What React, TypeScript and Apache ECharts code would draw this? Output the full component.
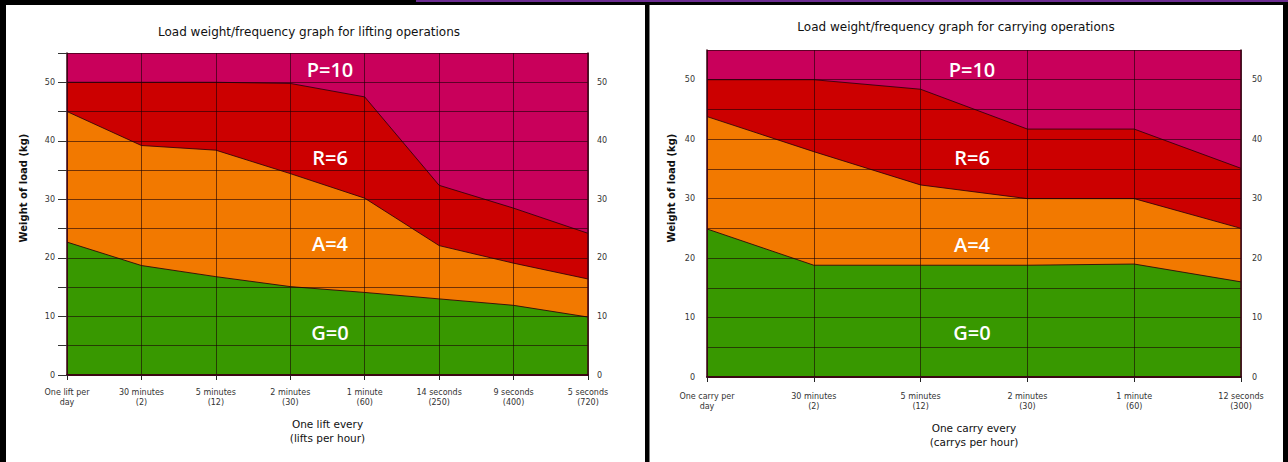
import React, { useEffect, useRef } from "react";
import * as echarts from "echarts";

const liftCategories = [
  "One lift per\nday",
  "30 minutes\n(2)",
  "5 minutes\n(12)",
  "2 minutes\n(30)",
  "1 minute\n(60)",
  "14 seconds\n(250)",
  "9 seconds\n(400)",
  "5 seconds\n(720)",
];
const liftGreenTop = [22.7, 18.7, 16.8, 15.1, 14.1, 13.0, 11.9, 9.9];
const liftOrangeTop = [45.0, 39.2, 38.4, 34.4, 30.2, 22.1, 19.1, 16.4];
const liftRedTop = [50, 50, 50, 49.8, 47.5, 32.4, 28.5, 24.2];

const carryCategories = [
  "One carry per\nday",
  "30 minutes\n(2)",
  "5 minutes\n(12)",
  "2 minutes\n(30)",
  "1 minute\n(60)",
  "12 seconds\n(300)",
];
const carryGreenTop = [24.9, 18.8, 18.8, 18.8, 19.0, 16.0];
const carryOrangeTop = [43.8, 37.9, 32.3, 30.0, 30.0, 25.0];
const carryRedTop = [50, 50, 48.4, 41.7, 41.7, 35.1];

const yLabelTicks = [0, 10, 20, 30, 40, 50];
const zoneLabels = ["P=10", "R=6", "A=4", "G=0"];
const titles = [
  "Load weight/frequency graph for lifting operations",
  "Load weight/frequency graph for carrying operations",
];
const xNames = ["One lift every\n(lifts per hour)", "One carry every\n(carrys per hour)"];
const yName = "Weight of load (kg)";

const FONT = '"DejaVu Sans", Verdana, sans-serif';
const ZONE_FONT = '"Open Sans", "DejaVu Sans", sans-serif';
const C_P = "#C9005B";
const C_R = "#CC0000";
const C_A = "#F27900";
const C_G = "#389800";
const GRIDLINE = "rgba(25,0,5,0.6)";
const BORDER = "#3a0012";

export default function App() {
  const ref = useRef<HTMLDivElement>(null);

  useEffect(() => {
    document.body.style.margin = "0";
    if (!ref.current) return;
    const chart = echarts.init(ref.current, undefined, { renderer: "svg" });

    const grids = [
      { left: 67, top: 53, width: 521, height: 322 },
      { left: 707, top: 50, width: 534, height: 327 },
    ];
    const panels = [
      { cats: liftCategories, g: liftGreenTop, a: liftOrangeTop, r: liftRedTop, yTicks: true, rMargin: 9, xMargin: 13, nameGap: 42 },
      { cats: carryCategories, g: carryGreenTop, a: carryOrangeTop, r: carryRedTop, yTicks: false, rMargin: 11, xMargin: 15, nameGap: 44 },
    ];

    const xAxis: any[] = [];
    const yAxis: any[] = [];
    const series: any[] = [];
    const fmt = (v: number) => (yLabelTicks.includes(v) ? String(v) : "");

    panels.forEach((p, i) => {
      xAxis.push({
        type: "category",
        gridIndex: i,
        data: p.cats,
        boundaryGap: false,
        position: "bottom",
        z: 5,
        axisLine: { show: true, lineStyle: { color: BORDER, width: 1.5 } },
        axisTick: { show: true, length: 5, interval: 0, lineStyle: { color: "#222" } },
        axisLabel: { interval: 0, fontSize: 8, color: "#333", margin: p.xMargin, lineHeight: 9.5, fontFamily: FONT },
        splitLine: { show: true, interval: 0, lineStyle: { color: GRIDLINE, width: 1 } },
        name: xNames[i],
        nameLocation: "middle",
        nameGap: p.nameGap,
        nameTextStyle: { fontSize: 10.5, color: "#111", lineHeight: 14, fontFamily: FONT },
      });
      xAxis.push({
        type: "category",
        gridIndex: i,
        data: p.cats,
        boundaryGap: false,
        position: "top",
        z: 5,
        axisLine: { show: true, lineStyle: { color: BORDER, width: 1.5 } },
        axisTick: { show: false },
        axisLabel: { show: false },
        splitLine: { show: false },
      });
      yAxis.push({
        type: "value",
        gridIndex: i,
        min: 0,
        max: 55,
        interval: 5,
        position: "left",
        z: 5,
        axisLine: { show: true, lineStyle: { color: BORDER, width: 1.5 } },
        axisTick: { show: p.yTicks, length: 9, lineStyle: { color: "#333" } },
        axisLabel: { fontSize: 8, color: "#333", margin: 12, formatter: fmt, fontFamily: FONT },
        splitLine: { show: true, lineStyle: { color: GRIDLINE, width: 1 } },
      });
      yAxis.push({
        type: "value",
        gridIndex: i,
        min: 0,
        max: 55,
        interval: 5,
        position: "right",
        z: 5,
        axisLine: { show: true, lineStyle: { color: BORDER, width: 1.5 } },
        axisTick: { show: false },
        axisLabel: { fontSize: 8, color: "#333", margin: p.rMargin, formatter: fmt, fontFamily: FONT },
        splitLine: { show: false },
      });
      const bands: [number[], string][] = [
        [p.r, C_R],
        [p.a, C_A],
        [p.g, C_G],
      ];
      bands.forEach(([data, color]) => {
        series.push({
          type: "line",
          xAxisIndex: i * 2,
          yAxisIndex: i * 2,
          data,
          symbol: "none",
          silent: true,
          z: 2,
          lineStyle: { color: "rgba(45,0,10,0.85)", width: 1 },
          areaStyle: { color, opacity: 1 },
        });
      });
    });

    const zoneY = [
      [69, 157, 243, 332],
      [69, 157, 244, 332],
    ];
    const zoneX = [330, 972];

    const graphic: any[] = [
      { type: "rect", shape: { x: 0, y: 0, width: 1288, height: 5 }, style: { fill: "#000" }, z: 100 },
      { type: "rect", shape: { x: 416, y: 0, width: 872, height: 2 }, style: { fill: "#6B2C91" }, z: 101 },
      { type: "rect", shape: { x: 0, y: 0, width: 6, height: 462 }, style: { fill: "#000" }, z: 100 },
      { type: "rect", shape: { x: 645, y: 0, width: 4.5, height: 462 }, style: { fill: "#000" }, z: 100 },
      { type: "rect", shape: { x: 1283, y: 0, width: 5, height: 462 }, style: { fill: "#000" }, z: 100 },
      {
        type: "text", x: 309, y: 31.5, z: 100,
        style: { text: titles[0], fill: "#111", font: `12px ${FONT}`, align: "center", verticalAlign: "middle" },
      },
      {
        type: "text", x: 956, y: 27, z: 100,
        style: { text: titles[1], fill: "#111", font: `12px ${FONT}`, align: "center", verticalAlign: "middle" },
      },
      {
        type: "text", x: 23, y: 188, rotation: Math.PI / 2, z: 100,
        style: { text: yName, fill: "#111", font: `bold 10px ${FONT}`, align: "center", verticalAlign: "middle" },
      },
      {
        type: "text", x: 671, y: 188, rotation: Math.PI / 2, z: 100,
        style: { text: yName, fill: "#111", font: `bold 10px ${FONT}`, align: "center", verticalAlign: "middle" },
      },
    ];
    [0, 1].forEach((i) => {
      zoneLabels.forEach((lab, k) => {
        graphic.push({
          type: "text",
          x: zoneX[i],
          y: zoneY[i][k],
          z: 100,
          silent: true,
          style: { text: lab, fill: "#fff", font: `600 20px ${ZONE_FONT}`, align: "center", verticalAlign: "middle" },
        });
      });
    });

    chart.setOption({
      animation: false,
      backgroundColor: "#fff",
      textStyle: { fontFamily: FONT },
      grid: grids.map((g) => ({ ...g, show: true, backgroundColor: C_P, borderWidth: 0 })),
      xAxis,
      yAxis,
      series,
      graphic,
    });

    return () => chart.dispose();
  }, []);

  return <div ref={ref} style={{ width: 1288, height: 462 }} />;
}
